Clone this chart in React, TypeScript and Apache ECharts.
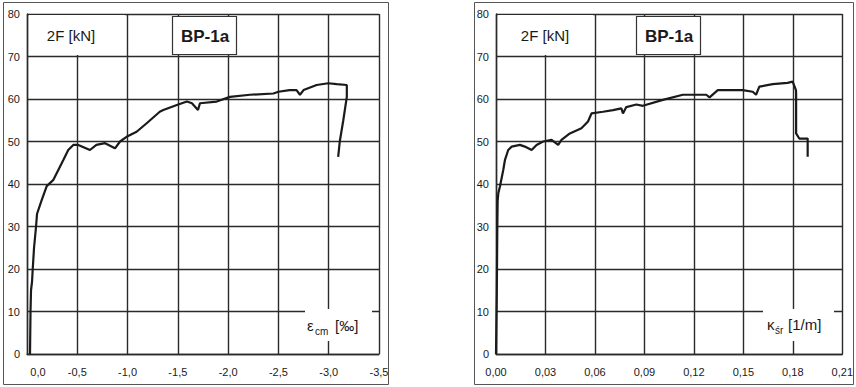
import React, { useEffect, useRef } from "react";
import * as echarts from "echarts";

// Left chart: concrete strain eps_cm [‰] vs 2F [kN]
const leftStrain = [-0.03, -0.035, -0.04, -0.05, -0.057, -0.07, -0.09, -0.1, -0.146, -0.196, -0.26, -0.345, -0.36, -0.41, -0.46, -0.51, -0.626, -0.69, -0.776, -0.875, -0.925, -0.99, -1.09, -1.19, -1.32, -1.355, -1.49, -1.59, -1.64, -1.7, -1.72, -1.886, -2.018, -2.217, -2.45, -2.5, -2.61, -2.68, -2.714, -2.75, -2.88, -2.996, -3.08, -3.18, -3.18, -3.145, -3.11, -3.094];
const leftForce = [0, 10, 15, 17, 20, 25, 30, 33, 36.2, 39.5, 40.9, 44.9, 45.6, 48, 49.2, 49.2, 48, 49.2, 49.6, 48.4, 50, 51.1, 52.3, 54.3, 57, 57.4, 58.6, 59.4, 59, 57.4, 59, 59.4, 60.5, 61, 61.3, 61.7, 62.1, 62.1, 61, 62.1, 63.3, 63.7, 63.5, 63.3, 60.5, 55, 50, 46.4];

// Right chart: curvature kappa_sr [1/m] vs 2F [kN]
const rightCurv = [0, 0.0005, 0.0008, 0.001, 0.0014, 0.0024, 0.0044, 0.0054, 0.0074, 0.0095, 0.0145, 0.0175, 0.0216, 0.0246, 0.0286, 0.0337, 0.0377, 0.0397, 0.0448, 0.0518, 0.0558, 0.0579, 0.0649, 0.071, 0.076, 0.077, 0.079, 0.0851, 0.0891, 0.1012, 0.1133, 0.1275, 0.1295, 0.1345, 0.1496, 0.1557, 0.1577, 0.1597, 0.1678, 0.1768, 0.1799, 0.1819, 0.182, 0.182, 0.1839, 0.189, 0.189];
const rightForce = [0, 15, 30, 36, 37.8, 39.4, 43.3, 45.6, 48, 48.8, 49.2, 48.8, 48, 49.2, 50, 50.4, 49.2, 50.4, 51.9, 53.1, 54.7, 56.6, 57, 57.4, 57.8, 56.6, 58.1, 58.7, 58.4, 59.8, 61, 61, 60.4, 62.1, 62.1, 61.7, 61, 62.9, 63.5, 63.8, 64.1, 62.1, 61.3, 51.9, 50.7, 50.7, 46.4];

const yTitle = "2F [kN]";
const specimen = "BP-1a";

const FONT = "'Liberation Sans', Arial, sans-serif";
const GRID = "#2a2a2a";
const INK = "#1a1a1a";

export default function App() {
  const ref = useRef<HTMLDivElement>(null);
  useEffect(() => {
    document.body.style.margin = "0";
    const chart = echarts.init(ref.current!, undefined, { renderer: "svg" });
    const lineSt = { color: GRID, width: 1.4 };
    const yAxisBase = (gi: number) => ({
      type: "value",
      gridIndex: gi,
      min: 0,
      max: 80,
      interval: 10,
      axisLine: { show: true, lineStyle: lineSt },
      axisTick: { show: false },
      splitLine: { show: true, lineStyle: lineSt },
      axisLabel: { color: INK, fontFamily: FONT, fontSize: 11, margin: 7 },
    });
    const labelBox = (x: number, y: number, w: number, h: number) => ({
      type: "rect",
      shape: { x, y, width: w, height: h },
      style: { fill: "#fff" },
      z: 10,
    });
    const specBox = (x: number) => ({
      type: "rect",
      shape: { x: x + 0.5, y: 16.5, width: 64, height: 38 },
      style: { fill: "#fff", stroke: "#333", lineWidth: 1.2 },
      z: 10,
    });
    const txt = (x: number, y: number, text: string, size: number, weight: any, align: any = "center") => ({
      type: "text",
      x,
      y,
      z: 11,
      style: {
        text,
        fill: INK,
        font: `${weight} ${size}px ${FONT}`,
        align,
        verticalAlign: "middle",
      },
    });
    chart.setOption({
      animation: false,
      grid: [
        { left: 27, top: 14, width: 352, height: 340 },
        { left: 496, top: 14, width: 347, height: 340 },
      ],
      xAxis: [
        {
          type: "value",
          gridIndex: 0,
          min: -3.5,
          max: 0,
          interval: 0.5,
          inverse: true,
          axisLine: { show: true, onZero: false, lineStyle: lineSt },
          axisTick: { show: false },
          splitLine: { show: true, lineStyle: lineSt },
          axisLabel: {
            color: INK,
            fontFamily: FONT,
            fontSize: 11,
            margin: 12,
            formatter: (v: number) => {
              const s = Math.abs(v) < 1e-9 ? "0,0" : v.toFixed(1).replace(".", ",");
              return Math.abs(v) < 1e-9 ? "{p|" + s + "}" : s;
            },
            rich: { p: { fontFamily: FONT, fontSize: 11, color: INK, padding: [0, 0, 0, 22] } },
          },
        },
        {
          type: "value",
          gridIndex: 1,
          min: 0,
          max: 0.21,
          interval: 0.03,
          axisLine: { show: true, onZero: false, lineStyle: lineSt },
          axisTick: { show: false },
          splitLine: { show: true, lineStyle: lineSt },
          axisLabel: {
            color: INK,
            fontFamily: FONT,
            fontSize: 11,
            margin: 12,
            formatter: (v: number) => v.toFixed(2).replace(".", ","),
          },
        },
      ],
      yAxis: [yAxisBase(0), yAxisBase(1)],
      series: [
        {
          type: "line",
          xAxisIndex: 0,
          yAxisIndex: 0,
          data: leftStrain.map((x, i) => [x, leftForce[i]]),
          showSymbol: false,
          lineStyle: { color: INK, width: 2.2 },
          z: 5,
        },
        {
          type: "line",
          xAxisIndex: 1,
          yAxisIndex: 1,
          data: rightCurv.map((x, i) => [x, rightForce[i]]),
          showSymbol: false,
          lineStyle: { color: INK, width: 2.2 },
          z: 5,
        },
      ],
      graphic: [
        // outer frames
        { type: "rect", shape: { x: 3.5, y: 2.5, width: 385, height: 382 }, style: { fill: "none", stroke: "#555", lineWidth: 1 }, z: 12 },
        { type: "rect", shape: { x: 474.5, y: 2.5, width: 379, height: 382 }, style: { fill: "none", stroke: "#555", lineWidth: 1 }, z: 12 },
        // left chart labels
        labelBox(29, 15, 96, 40),
        txt(71, 35, yTitle, 15, "normal"),
        specBox(172),
        txt(205, 36, specimen, 17, "bold"),
        labelBox(305, 309, 67, 32),
        txt(307, 325, "ε", 15, "normal", "left"),
        txt(315, 331, "cm", 10, "normal", "left"),
        txt(335, 325, "[‰]", 15, "normal", "left"),
        // right chart labels
        labelBox(763, 309, 71, 32),
        txt(767, 324, "κ", 15, "normal", "left"),
        txt(775, 330, "śr", 10, "normal", "left"),
        txt(788, 324, "[1/m]", 15, "normal", "left"),
        labelBox(498, 15, 95, 40),
        txt(545, 35, yTitle, 15, "normal"),
        specBox(636),
        txt(669, 36, specimen, 17, "bold"),
      ],
    });
    return () => chart.dispose();
  }, []);
  return <div ref={ref} style={{ width: 856, height: 387 }} />;
}
